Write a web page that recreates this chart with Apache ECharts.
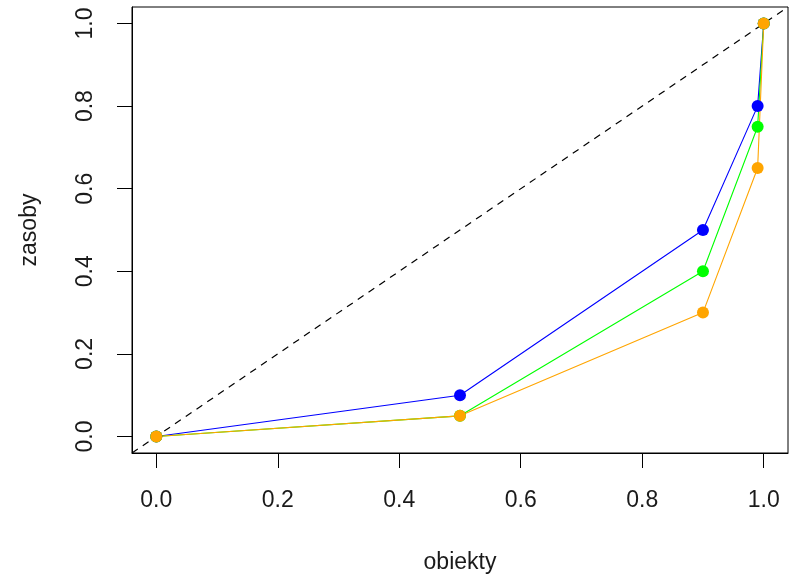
<!DOCTYPE html>
<html>
<head>
<meta charset="utf-8">
<script src="https://cdn.jsdelivr.net/npm/echarts@6/dist/echarts.min.js"></script>
<style>
html,body{margin:0;padding:0;background:#fff;}
#chart{width:796px;height:577px;}
</style>
</head>
<body>
<div id="chart"></div>
<script>
// Data
const xValues = [0, 0.5, 0.9, 0.99, 1.0];
const blueY   = [0, 0.10, 0.50, 0.80, 1.0];
const greenY  = [0, 0.05, 0.40, 0.75, 1.0];
const orangeY = [0, 0.05, 0.30, 0.65, 1.0];
const tickValues = [0, 0.2, 0.4, 0.6, 0.8, 1.0];
const axisMin = -0.04, axisMax = 1.04;
const xTitle = 'obiekty';
const yTitle = 'zasoby';

const pairs = (ys) => xValues.map((x, i) => [x, ys[i]]);
const diag = [[axisMin, axisMin], [axisMax, axisMax]];

const FONT = 'Liberation Sans, Arial, sans-serif';
const FS = 23;
const TXT = '#1a1a1a';

const chart = echarts.init(document.getElementById('chart'), null, {renderer: 'canvas'});

function lineSeries(data, color) {
  return {
    type: 'line',
    data: data,
    symbol: 'circle',
    symbolSize: 12,
    showSymbol: true,
    lineStyle: {color: color, width: 1.1},
    itemStyle: {color: color},
    emphasis: {disabled: true},
    silent: true,
    z: 3
  };
}

chart.setOption({
  animation: false,
  backgroundColor: '#fff',
  grid: {
    left: 132, right: 8, top: 7, bottom: 124,
    containLabel: false,
    outerBoundsMode: 'none',
    show: true, borderColor: '#000', borderWidth: 1, backgroundColor: 'transparent'
  },
  xAxis: {
    type: 'value',
    min: axisMin, max: axisMax,
    name: xTitle,
    nameLocation: 'middle',
    nameGap: 98,
    nameTextStyle: {fontFamily: FONT, fontSize: FS, color: TXT},
    axisLine: {show: true, onZero: false, lineStyle: {color: '#000', width: 1}},
    axisTick: {show: true, length: 15, customValues: tickValues, lineStyle: {color: '#000', width: 1}},
    axisLabel: {
      show: true, customValues: tickValues, margin: 36,
      formatter: (v) => v.toFixed(1),
      fontFamily: FONT, fontSize: FS, color: TXT
    },
    splitLine: {show: false}
  },
  yAxis: {
    type: 'value',
    min: axisMin, max: axisMax,
    name: yTitle,
    nameLocation: 'middle',
    nameGap: 91,
    nameRotate: 90,
    nameTextStyle: {fontFamily: FONT, fontSize: FS, color: TXT},
    axisLine: {show: true, onZero: false, lineStyle: {color: '#000', width: 1}},
    axisTick: {show: true, length: 15, customValues: tickValues, lineStyle: {color: '#000', width: 1}},
    axisLabel: {
      show: true, customValues: tickValues, margin: 35, rotate: 90,
      formatter: (v) => v.toFixed(1),
      fontFamily: FONT, fontSize: FS, color: TXT
    },
    splitLine: {show: false}
  },
  series: [
    {
      type: 'line',
      data: diag,
      symbol: 'none',
      lineStyle: {color: '#000', width: 1.2, type: [7, 6]},
      silent: true,
      z: 2
    },
    lineSeries(pairs(blueY), '#0000FF'),
    lineSeries(pairs(greenY), '#00FF00'),
    lineSeries(pairs(orangeY), '#FFA500')
  ]
});
</script>
</body>
</html>
